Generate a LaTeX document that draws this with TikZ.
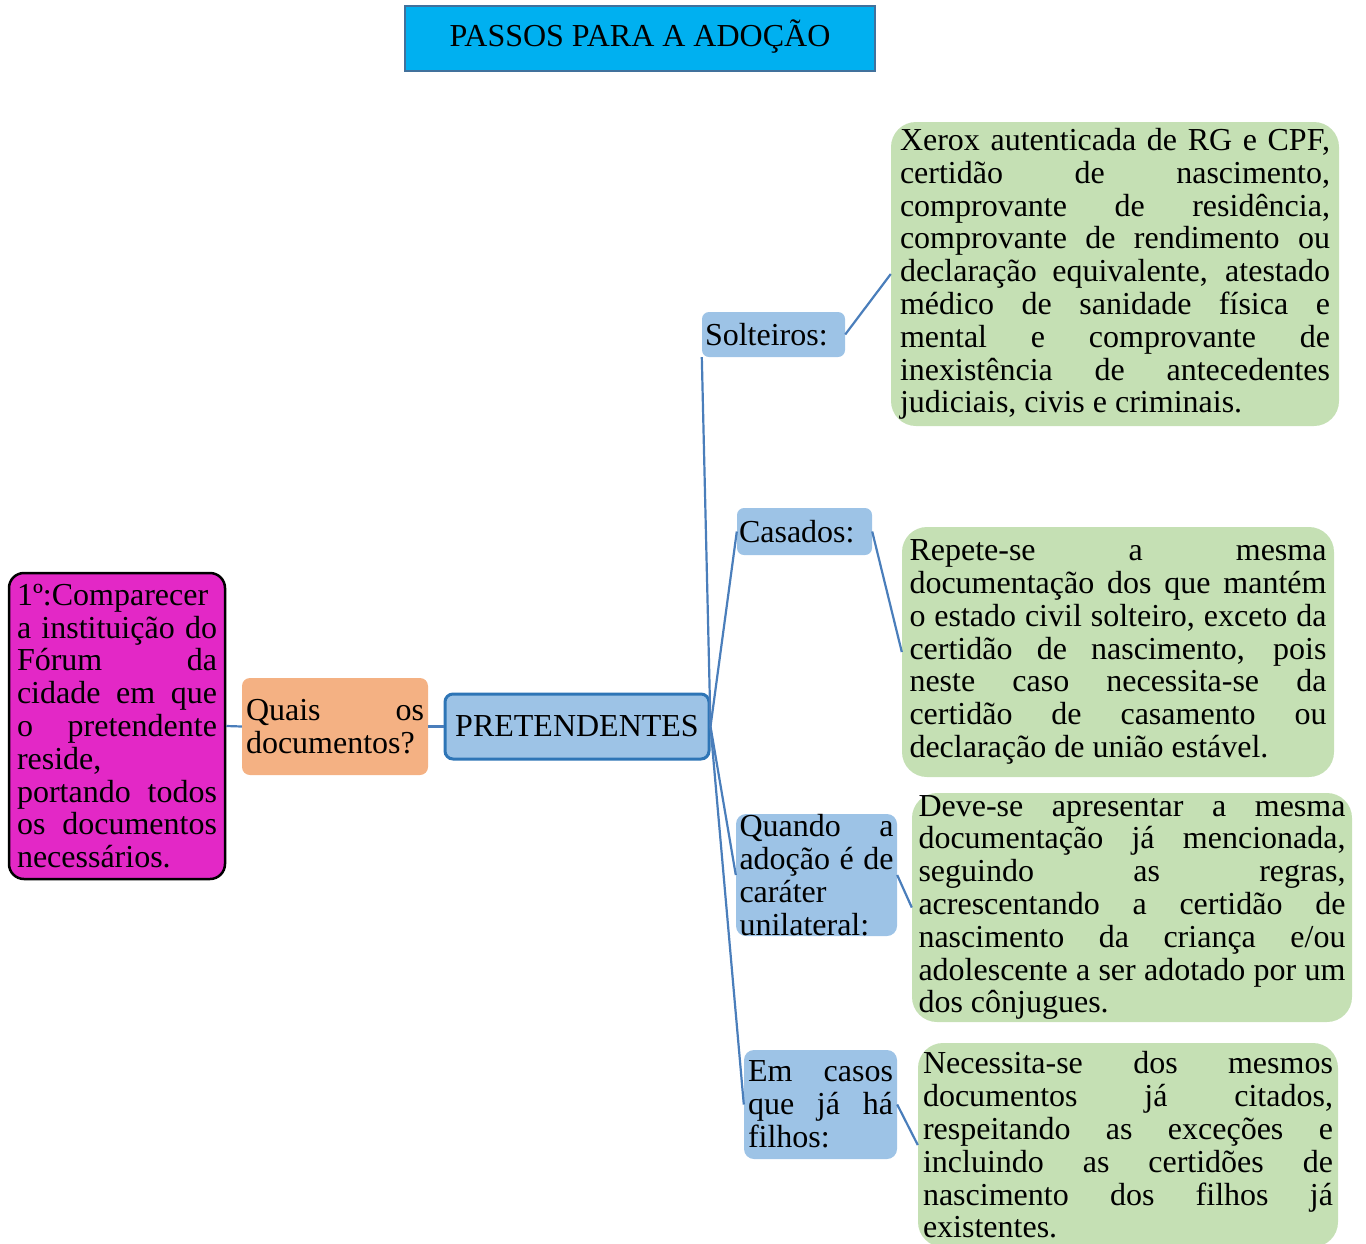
\documentclass[tikz,border=0pt]{standalone}
\usepackage{fontspec}
\setmainfont{Liberation Serif}
\hyphenpenalty=10000
\exhyphenpenalty=10000
\tolerance=10000
\hbadness=10000

\definecolor{titulo}{HTML}{00B0F0}
\definecolor{tituloborda}{HTML}{41719C}
\definecolor{rosa}{HTML}{E328C6}
\definecolor{laranja}{HTML}{F4B183}
\definecolor{azulcaixa}{HTML}{9DC3E6}
\definecolor{azulborda}{HTML}{2E75B6}
\definecolor{azullinha}{HTML}{4A7EBB}
\definecolor{verde}{HTML}{C5E0B4}

\begin{document}
\begin{tikzpicture}[x=1pt, y=-1pt,
    every node/.style={font=\fontsize{32}{32.8}\selectfont, inner sep=0pt},
    categoria/.style={fill=azulcaixa, rounded corners=7pt, align=justify},
    doc/.style={fill=verde, rounded corners=25pt, align=justify},
    ligacao/.style={draw=azullinha, line width=2.2pt}]
    \useasboundingbox (0,0) rectangle (1366,1243);

    % ===== Título =====
    \node[draw=tituloborda, line width=2pt, fill=titulo, minimum width=470pt, minimum height=65pt,
          text height=22pt, text depth=6pt] (titulo) at (640,38.5) {PASSOS PARA A ADOÇÃO};

    % ===== Primeiro passo =====
    \node[draw=black, line width=2.5pt, fill=rosa, rounded corners=15pt, align=justify,
          text width=200pt, minimum width=216pt, minimum height=306pt] (passo) at (117,726)
        {1º:Comparecer\linebreak a instituição do\linebreak Fórum da\linebreak cidade em que\linebreak
         o pretendente\linebreak reside,\newline portando todos\linebreak os documentos\linebreak necessários.};

    \node[fill=laranja, rounded corners=8pt, align=justify, text width=178pt,
          minimum width=186pt, minimum height=97pt] (quais) at (335,726.5)
        {Quais os\linebreak documentos?};

    \node[draw=azulborda, line width=3pt, fill=azulcaixa, rounded corners=8pt,
          minimum width=264pt, minimum height=65pt] (pret) at (577,726.5) {PRETENDENTES};

    % ===== Categorias =====
    \node[categoria, text width=137pt, minimum width=143pt, minimum height=45pt] (solt) at (773.5,334.5) {Solteiros:};
    \node[categoria, text width=131pt, minimum width=135pt, minimum height=47pt] (casa) at (804.5,531.5) {Casados:};
    \node[categoria, rounded corners=10pt, text width=154pt, minimum width=161pt, minimum height=122pt] (quando) at (816.5,875)
        {Quando a\linebreak adoção é de\linebreak caráter\linebreak unilateral:};
    \node[categoria, rounded corners=10pt, text width=145pt, minimum width=153pt, minimum height=109pt] (filhos) at (820.5,1104.5)
        {Em casos\linebreak que já há\linebreak filhos:};

    % ===== Documentos =====
    \node[doc, text width=430pt, minimum width=448pt, minimum height=304pt] (docsolt) at (1115,274)
        {Xerox autenticada de RG e CPF,\linebreak certidão de nascimento,\linebreak comprovante de residência,\linebreak
         comprovante de rendimento ou\linebreak declaração equivalente, atestado\linebreak médico de sanidade física e\linebreak
         mental e comprovante de\linebreak inexistência de antecedentes\linebreak judiciais, civis e criminais.};
    \node[doc, text width=417pt, minimum width=432pt, minimum height=250pt] (doccasa) at (1118,652)
        {Repete-se a mesma\linebreak documentação dos que mantém\linebreak o estado civil solteiro, exceto da\linebreak
         certidão de nascimento, pois\linebreak neste caso necessita-se da\linebreak certidão de casamento ou\linebreak
         declaração de união estável.};
    \node[doc, text width=427pt, minimum width=440pt, minimum height=229pt] (docuni) at (1132,907.5)
        {Deve-se apresentar a mesma\linebreak documentação já mencionada,\linebreak seguindo as regras,\linebreak
         acrescentando a certidão de\linebreak nascimento da criança e/ou\linebreak adolescente a ser adotado por um\linebreak
         dos cônjugues.};
    \node[doc, text width=410pt, minimum width=420pt, minimum height=204pt] (docfilhos) at (1128,1145)
        {Necessita-se dos mesmos\linebreak documentos já citados,\linebreak respeitando as exceções e\linebreak
         incluindo as certidões de\linebreak nascimento dos filhos já\linebreak existentes.};

    % ===== Ligações =====
    \draw[ligacao] (passo.east) -- (quais.west);
    \draw[ligacao] (quais.east) -- (pret.west);
    \draw[ligacao] (pret.east) -- (solt.south west);
    \foreach \c in {casa, quando, filhos} {
        \draw[ligacao] (pret.east) -- (\c.west);
    }
    \foreach \c/\d in {solt/docsolt, casa/doccasa, quando/docuni, filhos/docfilhos} {
        \draw[ligacao] (\c.east) -- (\d.west);
    }
\end{tikzpicture}
\end{document}
